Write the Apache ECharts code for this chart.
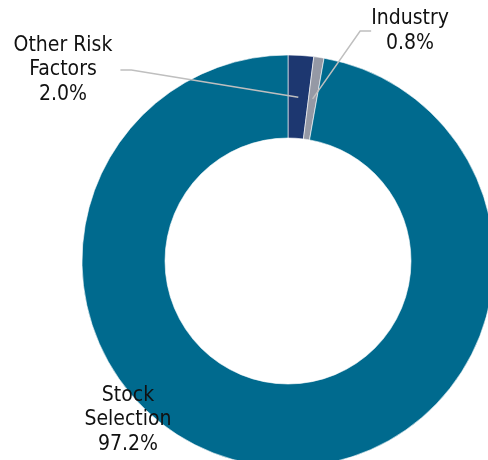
<!DOCTYPE html>
<html>
<head>
<meta charset="utf-8">
<script src="https://cdn.jsdelivr.net/npm/echarts@6/dist/echarts.min.js"></script>
<style>html,body{margin:0;padding:0;background:#fff;}#c{width:488px;height:460px;}</style>
</head>
<body>
<div id="c"></div>
<script>
const categories = ['Other Risk\nFactors', 'Industry', 'Stock\nSelection'];
const values = [2.0, 0.8, 97.2];
const colors = ['#1D3770', '#9599A5', '#006A8E'];
const labelPos = [[63, 70], [410, 31], [128, 420]];

const chart = echarts.init(document.getElementById('c'));
const data = categories.map((n, i) => ({ name: n, value: values[i], itemStyle: { color: colors[i] } }));
const labelData = categories.map((n, i) => ({ name: n, value: values[i], labelLine: { show: i !== 2 } }));
const font = { fontFamily: '"DejaVu Sans Condensed", "DejaVu Sans", sans-serif', fontSize: 21, lineHeight: 24.5, color: '#111' };

chart.setOption({
  animation: false,
  series: [
    {
      type: 'pie',
      center: [288, 261],
      radius: [123, 206],
      startAngle: 90,
      clockwise: true,
      silent: true,
      label: { show: false },
      labelLine: { show: false },
      itemStyle: { borderColor: '#fff', borderWidth: 0.6 },
      data: data
    },
    {
      type: 'pie',
      center: [288, 261],
      radius: [0, 164],
      startAngle: 90,
      clockwise: true,
      silent: true,
      z: 5,
      itemStyle: { color: 'rgba(0,0,0,0)' },
      label: {
        show: true,
        position: 'outside',
        overflow: 'none',
        padding: [0, 8],
        formatter: p => p.name + '\n' + p.value.toFixed(1) + '%',
        align: 'center',
        ...font
      },
      labelLine: { show: true, length: 10, length2: 11, lineStyle: { color: '#BFBFBF', width: 1.5 } },
      labelLayout: function (params) {
        const p = labelPos[params.dataIndex];
        return { x: p[0], y: p[1], align: 'center', verticalAlign: 'middle' };
      },
      data: labelData
    }
  ]
});
</script>
</body>
</html>
